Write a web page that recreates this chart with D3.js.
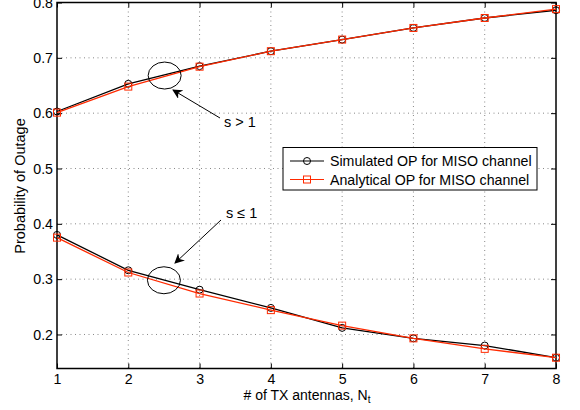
<!DOCTYPE html>
<html>
<head>
<meta charset="utf-8">
<script src="https://cdn.jsdelivr.net/npm/d3@7"></script>
<style>
  body { margin: 0; background: #fff; }
  text { font-family: "Liberation Sans", Arial, sans-serif; }
</style>
</head>
<body>
<svg id="chart" width="580" height="410"></svg>
<script>
// antennas
const nt = [1, 2, 3, 4, 5, 6, 7, 8];
// s > 1 branch
const simHigh = [0.603, 0.653, 0.685, 0.712, 0.733, 0.754, 0.772, 0.786];
const anaHigh = [0.601, 0.648, 0.684, 0.712, 0.733, 0.754, 0.772, 0.788];
// s <= 1 branch
const simLow = [0.380, 0.316, 0.281, 0.248, 0.212, 0.193, 0.180, 0.158];
const anaLow = [0.375, 0.312, 0.274, 0.244, 0.216, 0.193, 0.174, 0.158];
const xTicks = [1, 2, 3, 4, 5, 6, 7, 8];
const yTicks = [0.2, 0.3, 0.4, 0.5, 0.6, 0.7, 0.8];
const legendLabels = ['Simulated OP for MISO channel', 'Analytical OP for MISO channel'];

const RED = '#ff2a00';
const svg = d3.select('#chart');
const pLeft = 57, pRight = 556, pTop = 2.5, pBottom = 368.5;

const x = d3.scaleLinear().domain([1, 8]).range([pLeft, pRight]);
const y = d3.scaleLinear().domain([0.1385, 0.8]).range([pBottom, pTop]);

// grid
const grid = svg.append('g').attr('stroke', '#888').attr('stroke-width', 1)
  .attr('stroke-dasharray', '1,3.5');
grid.selectAll('.gx').data(xTicks.slice(1, -1)).enter().append('line')
  .attr('x1', d => x(d)).attr('x2', d => x(d)).attr('y1', pTop).attr('y2', pBottom);
grid.selectAll('.gy').data(yTicks.slice(0, -1)).enter().append('line')
  .attr('y1', d => y(d)).attr('y2', d => y(d)).attr('x1', pLeft).attr('x2', pRight);

// axes (ticks inside)
const axisFont = g => g.call(s => s.select('.domain').remove())
  .selectAll('text').attr('font-size', 14.2).attr('fill', '#000')
  .attr('font-family', '"Liberation Sans", Arial, sans-serif');

svg.append('g').attr('transform', `translate(0,${pBottom})`)
  .call(d3.axisBottom(x).tickValues(xTicks).tickFormat(d3.format('d')).tickSizeInner(-5).tickPadding(5))
  .call(axisFont);
svg.append('g').attr('transform', `translate(0,${pTop})`)
  .call(d3.axisTop(x).tickValues(xTicks).tickFormat('').tickSizeInner(-5))
  .call(g => g.select('.domain').remove());
svg.append('g').attr('transform', `translate(${pLeft},0)`)
  .call(d3.axisLeft(y).tickValues(yTicks).tickFormat(d3.format('.1f')).tickSizeInner(-5).tickPadding(4))
  .call(axisFont);
svg.append('g').attr('transform', `translate(${pRight},0)`)
  .call(d3.axisRight(y).tickValues(yTicks).tickFormat('').tickSizeInner(-5))
  .call(g => g.select('.domain').remove());

svg.append('rect').attr('x', pLeft).attr('y', pTop)
  .attr('width', pRight - pLeft).attr('height', pBottom - pTop)
  .attr('fill', 'none').attr('stroke', '#000').attr('stroke-width', 1.5);

// series
const line = d3.line().x((d, i) => x(nt[i])).y(d => y(d));

function drawSeries(vals, color, marker) {
  svg.append('path').datum(vals).attr('d', line)
    .attr('fill', 'none').attr('stroke', color).attr('stroke-width', 1.3);
  const g = svg.append('g');
  if (marker === 'circle') {
    g.selectAll('circle').data(vals).enter().append('circle')
      .attr('cx', (d, i) => x(nt[i])).attr('cy', d => y(d)).attr('r', 3.5)
      .attr('fill', 'none').attr('stroke', color).attr('stroke-width', 1);
  } else {
    g.selectAll('rect').data(vals).enter().append('rect')
      .attr('x', (d, i) => x(nt[i]) - 3.5).attr('y', d => y(d) - 3.5)
      .attr('width', 7).attr('height', 7)
      .attr('fill', 'none').attr('stroke', color).attr('stroke-width', 1);
  }
}
drawSeries(simHigh, '#000', 'circle');
drawSeries(simLow, '#000', 'circle');
drawSeries(anaHigh, RED, 'square');
drawSeries(anaLow, RED, 'square');

// annotations
svg.append('defs').append('marker').attr('id', 'arr')
  .attr('viewBox', '0 0 10 10').attr('refX', 9).attr('refY', 5)
  .attr('markerWidth', 10).attr('markerHeight', 10).attr('orient', 'auto')
  .attr('markerUnits', 'userSpaceOnUse')
  .append('path').attr('d', 'M0,0 L10,5 L0,10 L3,5 Z').attr('fill', '#000');

function note(cx, cy, x1, y1, x2, y2, label, tx, ty) {
  svg.append('ellipse').attr('cx', cx).attr('cy', cy).attr('rx', 16.5).attr('ry', 13.5)
    .attr('fill', 'none').attr('stroke', '#000').attr('stroke-width', 1);
  svg.append('line').attr('x1', x1).attr('y1', y1).attr('x2', x2).attr('y2', y2)
    .attr('stroke', '#000').attr('stroke-width', 1).attr('marker-end', 'url(#arr)');
  svg.append('text').attr('x', tx).attr('y', ty).attr('font-size', 14.5).text(label);
}
note(x(2.51), y(0.668), 220, 118, 173, 90, 's > 1', 224, 127);
note(x(2.5), y(0.298), 221, 220, 175, 263, 's \u2264 1', 226, 218);

// legend
const leg = svg.append('g');
leg.append('rect').attr('x', 283).attr('y', 147.5).attr('width', 254).attr('height', 42.5)
  .attr('fill', '#fff').attr('stroke', '#000').attr('stroke-width', 1);
legendLabels.forEach((t, i) => {
  const yy = 161 + i * 18.5;
  const c = i === 0 ? '#000' : RED;
  leg.append('line').attr('x1', 290).attr('x2', 324).attr('y1', yy).attr('y2', yy)
    .attr('stroke', c).attr('stroke-width', 1.2);
  if (i === 0) {
    leg.append('circle').attr('cx', 307).attr('cy', yy).attr('r', 3.5)
      .attr('fill', 'none').attr('stroke', c);
  } else {
    leg.append('rect').attr('x', 303.5).attr('y', yy - 3.5).attr('width', 7).attr('height', 7)
      .attr('fill', 'none').attr('stroke', c);
  }
  leg.append('text').attr('x', 330).attr('y', yy + 5).attr('font-size', 14.2).text(t);
});

// axis labels
const xl = svg.append('text').attr('x', 307).attr('y', 399.5).attr('text-anchor', 'middle')
  .attr('font-size', 14);
xl.append('tspan').text('# of TX antennas, N');
xl.append('tspan').attr('dy', 3.5).attr('font-size', 10).text('t');

svg.append('text').attr('transform', 'translate(25,186) rotate(-90)')
  .attr('text-anchor', 'middle').attr('font-size', 14.5).text('Probability of Outage');
</script>
</body>
</html>
